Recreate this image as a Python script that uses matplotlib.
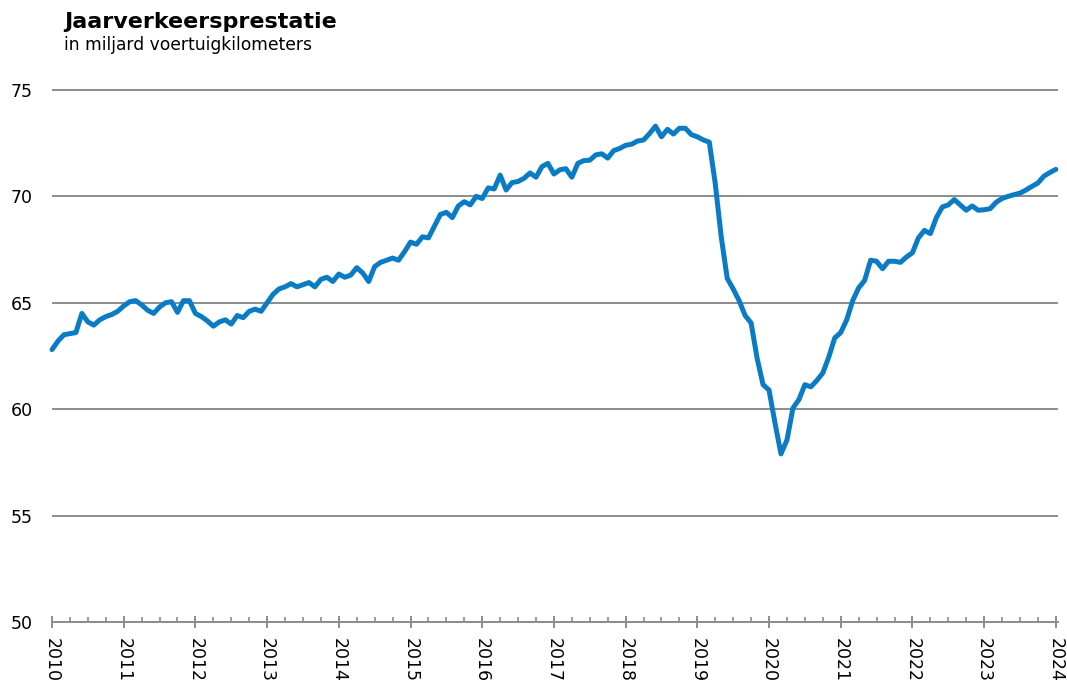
import numpy as np
import matplotlib
matplotlib.use("Agg")
import matplotlib.pyplot as plt
from matplotlib.ticker import MultipleLocator

# Jaarverkeersprestatie, monthly from jan 2010 to jan 2024 (billion vehicle km)
START_YEAR = 2010
values = [
    62.8, 63.2, 63.5, 63.55, 63.6, 64.5, 64.1, 63.95, 64.2, 64.35, 64.45, 64.6,
    64.85, 65.05, 65.1, 64.9, 64.65, 64.5, 64.8, 65.0, 65.05, 64.55, 65.1, 65.1,
    64.5, 64.35, 64.15, 63.9, 64.1, 64.2, 64.0, 64.4, 64.3, 64.6, 64.7, 64.6,
    65.0, 65.4, 65.65, 65.75, 65.9, 65.75, 65.85, 65.95, 65.75, 66.1, 66.2, 66.0,
    66.35, 66.2, 66.3, 66.65, 66.4, 66.0, 66.7, 66.9, 67.0, 67.1, 67.0, 67.4,
    67.85, 67.75, 68.1, 68.05, 68.6, 69.15, 69.25, 69.0, 69.55, 69.75, 69.6, 70.0,
    69.9, 70.4, 70.35, 71.0, 70.3, 70.65, 70.7, 70.85, 71.1, 70.9, 71.4, 71.55,
    71.05, 71.25, 71.3, 70.9, 71.55, 71.68, 71.7, 71.95, 72.0, 71.8, 72.15, 72.25,
    72.4, 72.45, 72.6, 72.65, 72.95, 73.3, 72.8, 73.15, 72.93, 73.2, 73.2, 72.9,
    72.8, 72.65, 72.55, 70.6, 68.1, 66.15, 65.65, 65.1, 64.4, 64.05, 62.4, 61.15,
    60.9, 59.35, 57.9, 58.55, 60.05, 60.45, 61.15, 61.05, 61.35, 61.7, 62.45, 63.35,
    63.6, 64.2, 65.1, 65.7, 66.05, 67.0, 66.95, 66.6, 66.95, 66.95, 66.9, 67.15,
    67.35, 68.05, 68.4, 68.25, 69.0, 69.5, 69.6, 69.85, 69.6, 69.35, 69.55, 69.35,
    69.37, 69.42, 69.72, 69.9, 70.0, 70.08, 70.15, 70.3, 70.47, 70.63, 70.95, 71.12,
    71.27,
]
year_ticks = list(range(2010, 2025))
y_ticks = [50, 55, 60, 65, 70, 75]

TITLE = "Jaarverkeersprestatie"
SUBTITLE = "in miljard voertuigkilometers"
LINE_COLOR = "#0a7cc6"
GRID_COLOR = "#8c8c8c"

x = START_YEAR + np.arange(len(values)) / 12.0

fig = plt.figure(figsize=(10.67, 6.84), dpi=100)
# bottom of axes at y=622 px, 75 at y=90 px; a little headroom so the top gridline is not clipped
ax = fig.add_axes([52 / 1067, 1 - 622 / 684, 1006 / 1067, 533.1 / 684])

ax.plot(x, values, color=LINE_COLOR, linewidth=3.6, solid_capstyle="round",
        solid_joinstyle="round", clip_on=False, zorder=3)

ax.set_xlim(2010, 2024.03)
ax.set_ylim(50, 75.05)
ax.set_yticks(y_ticks)
ax.set_xticks(year_ticks)
ax.set_xticklabels([str(y) for y in year_ticks], rotation=-90, fontsize=12.5)
ax.xaxis.set_minor_locator(MultipleLocator(0.25))

ax.yaxis.grid(True, color=GRID_COLOR, linewidth=1.4)
ax.set_axisbelow(True)
for side in ["top", "right", "left"]:
    ax.spines[side].set_visible(False)
ax.spines["bottom"].set_color(GRID_COLOR)
ax.spines["bottom"].set_linewidth(1.4)

ax.tick_params(axis="y", length=0, pad=14, labelsize=12.5)
ax.tick_params(axis="x", which="major", direction="inout", length=8.5,
               width=1.4, color=GRID_COLOR, pad=7)
ax.tick_params(axis="x", which="minor", direction="in", length=3.5,
               width=1.2, color=GRID_COLOR)

fig.text(64 / 1067, 1 - 28 / 684, TITLE, fontsize=16, fontweight="bold",
         ha="left", va="baseline")
fig.text(64 / 1067, 1 - 50 / 684, SUBTITLE, fontsize=12.3,
         ha="left", va="baseline")

fig.savefig("out.png", dpi=100)
